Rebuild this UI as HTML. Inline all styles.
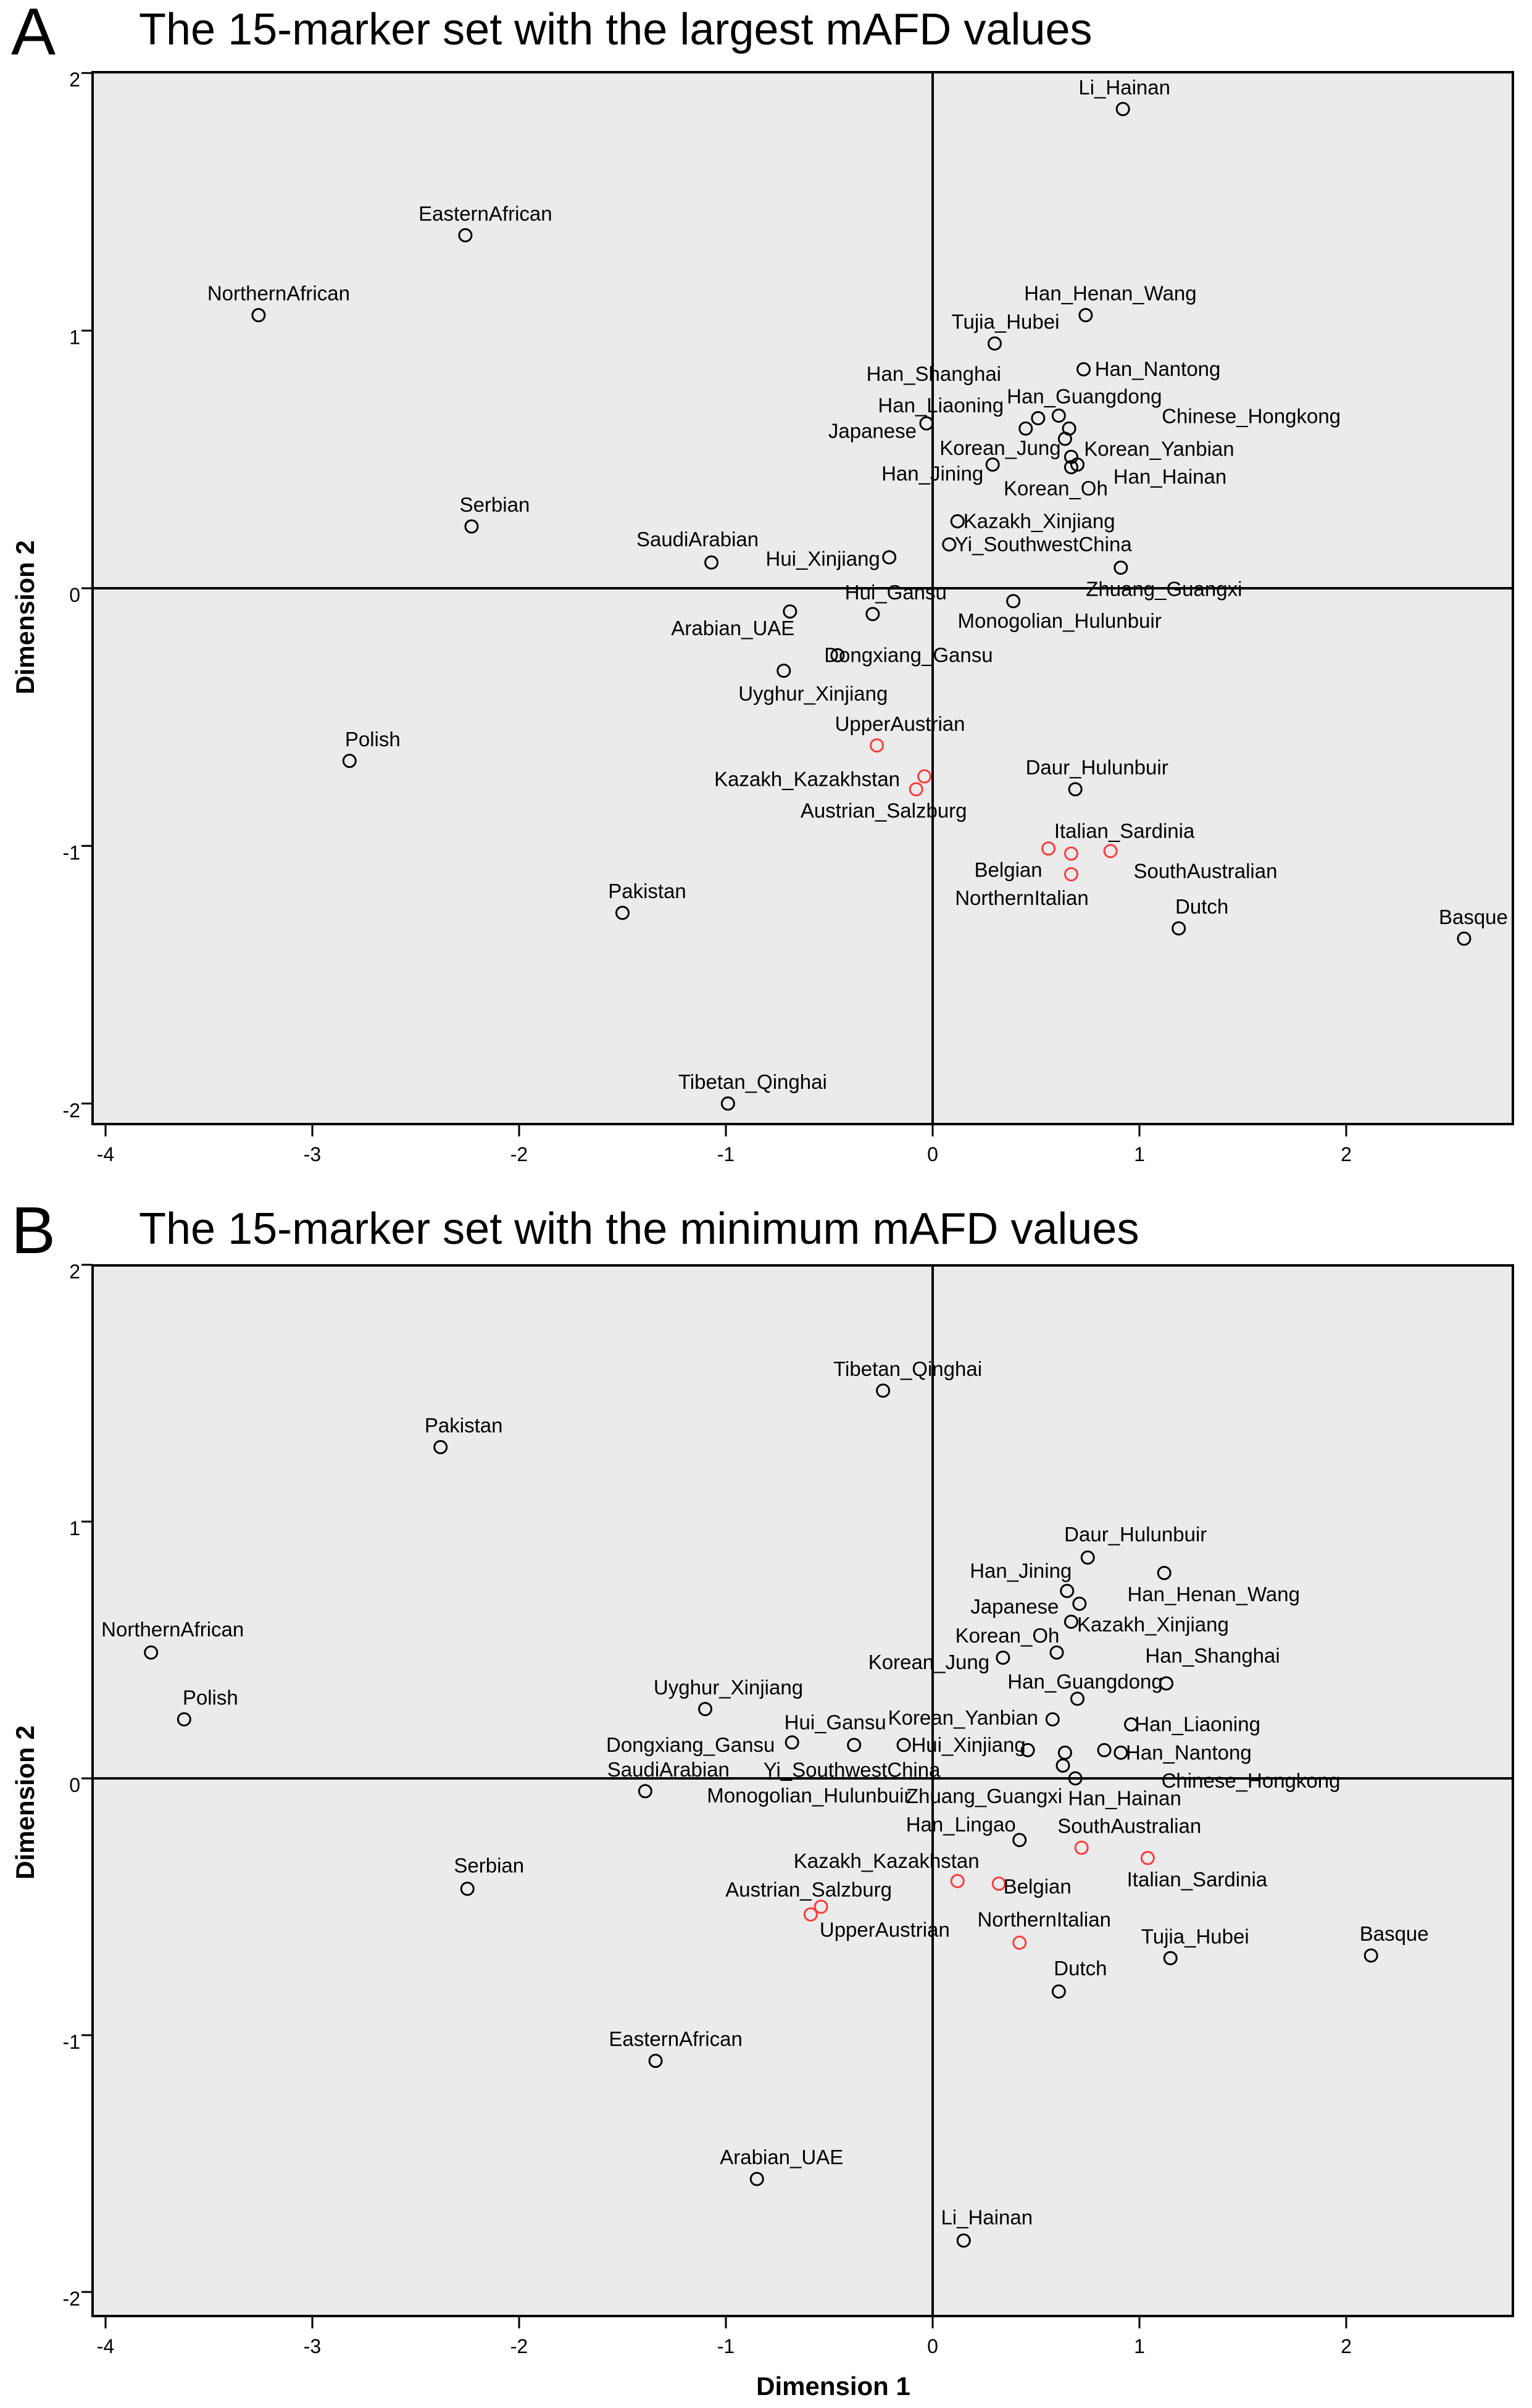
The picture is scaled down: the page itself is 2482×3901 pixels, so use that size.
<!DOCTYPE html>
<html><head><meta charset="utf-8"><style>
html,body{margin:0;padding:0;background:#fff;}
svg{display:block;font-family:"Liberation Sans",sans-serif;}
.lbl{font-size:33px;fill:#000;}
.tick{font-size:32px;fill:#000;}
</style></head><body>
<svg id="chart" width="2482" height="3901" viewBox="0 0 2482 3901" xmlns="http://www.w3.org/2000/svg">
<text x="18" y="88" font-size="108">A</text>
<text x="225" y="72" font-size="72">The 15-marker set with the largest mAFD values</text>
<text x="18" y="2030" font-size="108">B</text>
<text x="225" y="2015" font-size="72">The 15-marker set with the minimum mAFD values</text>
<text x="1350" y="3880" font-size="42" font-weight="bold" text-anchor="middle">Dimension 1</text>
<text transform="translate(55,1000) rotate(-90)" font-size="42" font-weight="bold" text-anchor="middle">Dimension 2</text>
<text transform="translate(55,2920) rotate(-90)" font-size="42" font-weight="bold" text-anchor="middle">Dimension 2</text>
<g id="panelA"></g>
<g id="panelB"></g>
</svg>
<script>
const xTicks = [-4,-3,-2,-1,0,1,2];
const yTicks = [-2,-1,0,1,2];
const redSet = ["UpperAustrian","Kazakh_Kazakhstan","Austrian_Salzburg","Italian_Sardinia","Belgian","SouthAustralian","NorthernItalian"];

const namesA = ["Li_Hainan","EasternAfrican","NorthernAfrican","Han_Henan_Wang","Tujia_Hubei","Han_Nantong","Han_Shanghai","Han_Liaoning","Han_Guangdong","Japanese","Chinese_Hongkong","Korean_Jung","Korean_Yanbian","Han_Jining","Han_Hainan","Korean_Oh","Kazakh_Xinjiang","Yi_SouthwestChina","Serbian","SaudiArabian","Hui_Xinjiang","Zhuang_Guangxi","Hui_Gansu","Monogolian_Hulunbuir","Arabian_UAE","Dongxiang_Gansu","Uyghur_Xinjiang","UpperAustrian","Kazakh_Kazakhstan","Austrian_Salzburg","Daur_Hulunbuir","Polish","Italian_Sardinia","Belgian","SouthAustralian","NorthernItalian","Pakistan","Dutch","Basque","Tibetan_Qinghai"];
const dim1A = [0.92,-2.26,-3.26,0.74,0.30,0.73,0.61,0.45,0.51,-0.03,0.66,0.64,0.67,0.29,0.70,0.67,0.12,0.08,-2.23,-1.07,-0.21,0.91,-0.29,0.39,-0.69,-0.46,-0.72,-0.27,-0.04,-0.08,0.69,-2.82,0.86,0.56,0.67,0.67,-1.50,1.19,2.57,-0.99];
const dim2A = [1.86,1.37,1.06,1.06,0.95,0.85,0.67,0.62,0.66,0.64,0.62,0.58,0.51,0.48,0.48,0.47,0.26,0.17,0.24,0.10,0.12,0.08,-0.10,-0.05,-0.09,-0.26,-0.32,-0.61,-0.73,-0.78,-0.78,-0.67,-1.02,-1.01,-1.11,-1.03,-1.26,-1.32,-1.36,-2.00];
const labOffA = [[1,-14],[13,-14],[13,-14],[16,-14],[7,-14],[48,0],[-81,-27],[-55,-15],[30,-14],[-35,5],[118,-8],[-42,6],[57,-5],[-39,6],[60,8],[-10,14],[53,0],[61,0],[15,-14],[-9,-15],[-43,1],[28,14],[15,-14],[30,13],[-37,11],[46,0],[19,15],[15,-14],[-76,2],[-21,14],[14,-14],[15,-14],[9,-13],[-26,14],[87,-2],[-32,29],[16,-14],[15,-14],[6,-14],[16,-14]];

const namesB = ["Tibetan_Qinghai","Pakistan","Daur_Hulunbuir","Han_Jining","Han_Henan_Wang","Japanese","Kazakh_Xinjiang","NorthernAfrican","Korean_Oh","Korean_Jung","Han_Shanghai","Han_Guangdong","Polish","Uyghur_Xinjiang","Korean_Yanbian","Han_Liaoning","Hui_Gansu","Dongxiang_Gansu","Hui_Xinjiang","Yi_SouthwestChina","Monogolian_Hulunbuir","Zhuang_Guangxi","Han_Hainan","Chinese_Hongkong","Han_Nantong","SaudiArabian","Han_Lingao","SouthAustralian","Italian_Sardinia","Kazakh_Kazakhstan","Belgian","Serbian","Austrian_Salzburg","UpperAustrian","NorthernItalian","Tujia_Hubei","Basque","Dutch","EasternAfrican","Arabian_UAE","Li_Hainan"];
const dim1B = [-0.24,-2.38,0.75,0.65,1.12,0.71,0.67,-3.78,0.60,0.34,1.13,0.70,-3.62,-1.10,0.58,0.96,-0.68,-0.38,-0.14,0.46,0.64,0.63,0.69,0.83,0.91,-1.39,0.42,0.72,1.04,0.12,0.32,-2.25,-0.54,-0.59,0.42,1.15,2.12,0.61,-1.34,-0.85,0.15];
const dim2B = [1.51,1.29,0.86,0.73,0.80,0.68,0.61,0.49,0.49,0.47,0.37,0.31,0.23,0.27,0.23,0.21,0.14,0.13,0.13,0.11,0.10,0.05,0.00,0.11,0.10,-0.05,-0.24,-0.27,-0.31,-0.40,-0.41,-0.43,-0.50,-0.53,-0.64,-0.70,-0.69,-0.83,-1.10,-1.56,-1.80];
const labOffB = [[16,-14],[15,-14],[31,-15],[-30,-13],[32,14],[-42,2],[53,2],[14,-15],[-32,-11],[-48,3],[30,-18],[5,-11],[17,-14],[15,-14],[-58,-1],[43,0],[28,-13],[-106,0],[42,0],[-114,13],[-166,28],[-51,20],[32,13],[95,20],[44,0],[15,-14],[-38,-10],[31,-14],[32,14],[-46,-13],[25,2],[14,-15],[-8,-11],[48,10],[16,-15],[16,-14],[15,-14],[14,-15],[13,-14],[16,-14],[15,-15]];

const NS = "http://www.w3.org/2000/svg";
const X = v => 1511 + v * 335;
function mk(tag, attrs, parent){const e=document.createElementNS(NS,tag);for(const k in attrs)e.setAttribute(k,attrs[k]);parent.appendChild(e);return e;}

function drawPanel(g, frame, Y, names, d1, d2, offs, prefix){
  const bg = mk('rect',{x:frame.l,y:frame.t,width:frame.r-frame.l,height:frame.b-frame.t,fill:'#ebebeb',stroke:'none'},g);
  
  
  const zx = mk('line',{x1:X(0),x2:X(0),y1:frame.t,y2:frame.b,stroke:'#000','stroke-width':4},g);
  
  
  const zy = mk('line',{x1:frame.l,x2:frame.r,y1:Y(0),y2:Y(0),stroke:'#000','stroke-width':4},g);
  
  
  const fr = mk('rect',{x:frame.l,y:frame.t,width:frame.r-frame.l,height:frame.b-frame.t,fill:'none',stroke:'#000','stroke-width':4},g);
  
  
  xTicks.forEach(v=>{
    const t = mk('line',{x1:X(v),x2:X(v),y1:frame.b,y2:frame.b+20,stroke:'#000','stroke-width':3},g);
    
    
    const l = mk('text',{x:X(v),y:frame.b+60,'text-anchor':'middle',class:'tick'},g);
    l.textContent = v;
    
    
  });
  yTicks.forEach(v=>{
    const t = mk('line',{x1:frame.l-18,x2:frame.l,y1:Y(v),y2:Y(v),stroke:'#000','stroke-width':3},g);
    
    
    const l = mk('text',{x:frame.l-20,y:Y(v)+22,'text-anchor':'end',class:'tick'},g);
    l.textContent = v;
    
    
  });
  names.forEach((n,i)=>{
    const cx = X(d1[i]), cy = Y(d2[i]);
    const red = redSet.includes(n);
    const c = mk('circle',{cx:cx,cy:cy,r:10,fill:'none',stroke:red?'#ff3b3b':'#000','stroke-width':3},g);
    
    
    const t = mk('text',{x:cx+offs[i][0]*2.5,y:cy+offs[i][1]*2.49+11,'text-anchor':'middle',class:'lbl'},g);
    t.textContent = n;
    
    
  });
}
drawPanel(document.getElementById('panelA'),{l:150,r:2451,t:117,b:1821},v=>953-v*417.4,namesA,dim1A,dim2A,labOffA,'panel-a');
drawPanel(document.getElementById('panelB'),{l:150,r:2451,t:2050,b:3752},v=>2881-v*416,namesB,dim1B,dim2B,labOffB,'panel-b');
</script>
</body></html>
